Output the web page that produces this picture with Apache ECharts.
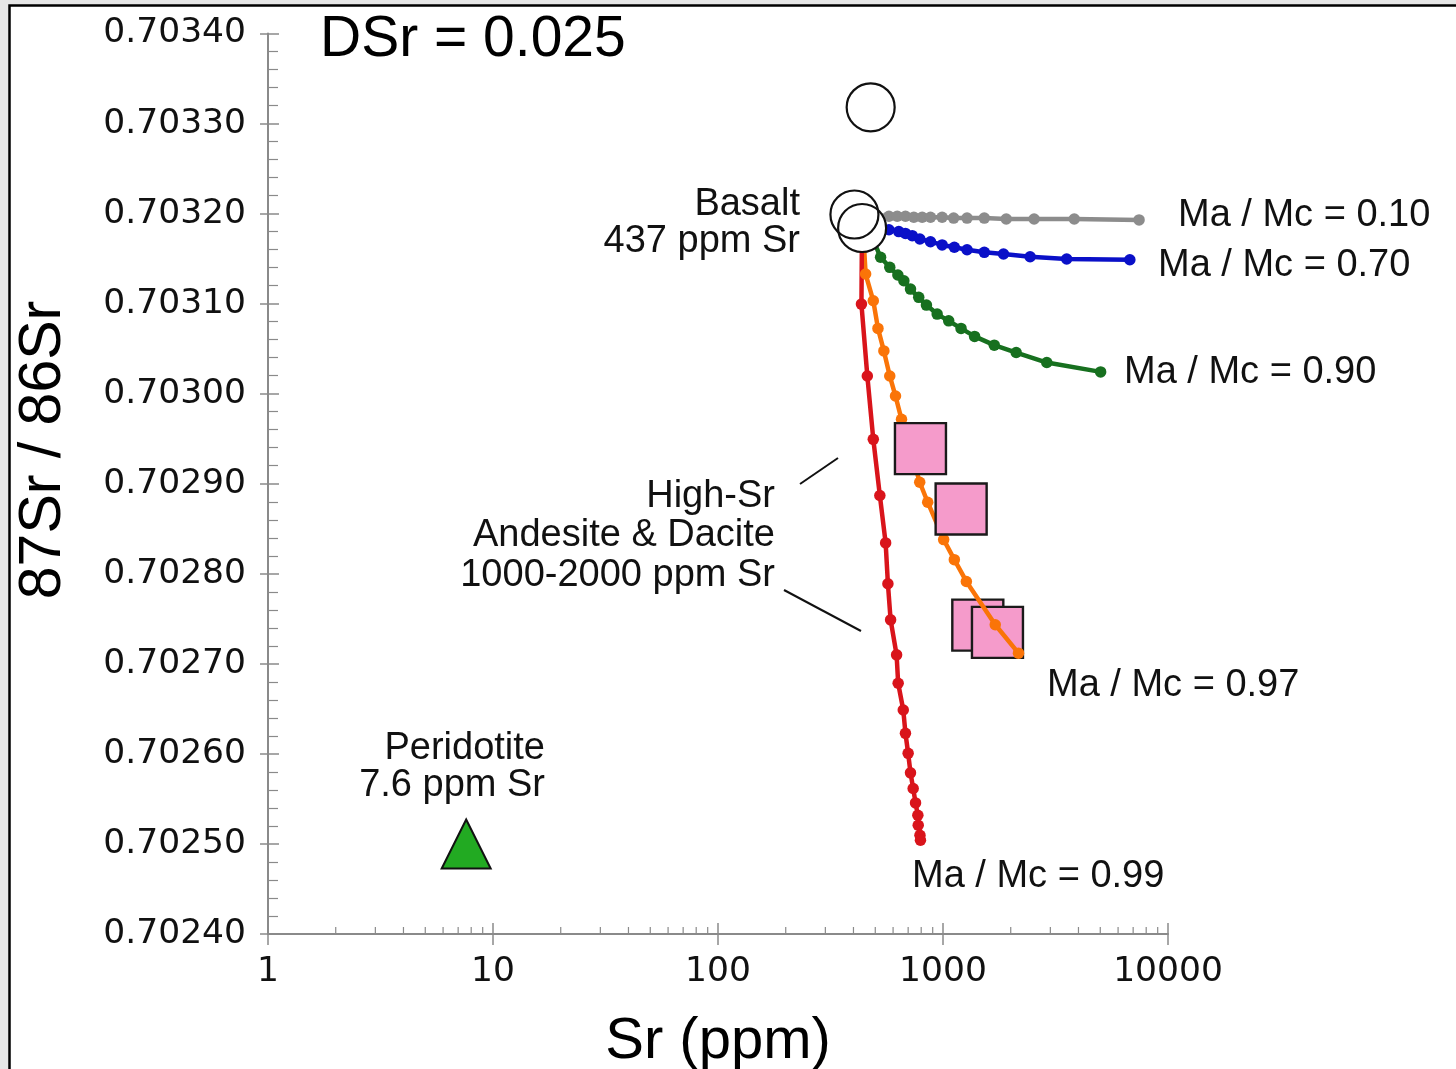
<!DOCTYPE html>
<html>
<head>
<meta charset="utf-8">
<title>DSr = 0.025 AFC curves</title>
<script src="https://cdn.jsdelivr.net/npm/echarts@6/dist/echarts.min.js"></script>
<style>
  html, body { margin: 0; padding: 0; background: #e6e6e6; overflow: hidden; }
  #chart { width: 1456px; height: 1069px; }
</style>
</head>
<body>
<div id="chart"></div>
<script>
// ---- axis ranges / ticks ----
const xTickValues = [1, 10, 100, 1000, 10000];
const yMin = 0.7024, yMax = 0.7034, yStep = 0.0001;

// ---- basalt samples (open circles) ----
const basaltSr    = [404, 437, 477];
const basaltRatio = [0.703199, 0.703184, 0.703318];

// ---- peridotite (triangle) ----
const peridotiteSr    = [7.6];
const peridotiteRatio = [0.70250];

// ---- high-Sr andesite & dacite (pink squares) ----
const highSrUpperSr    = [794, 1204];
const highSrUpperRatio = [0.702939, 0.702872];
const highSrLowerSr    = [1428, 1746];
const highSrLowerRatio = [0.702743, 0.702735];

// ---- AFC model curves, each starting from the parent basalt ----
const startSr = 437, startRatio = 0.70320;

const mamc010Sr    = [575, 626, 681, 742, 808, 880, 991, 1115, 1279, 1526, 1910, 2541, 3832, 7438];
const mamc010Ratio = [0.703197, 0.703197, 0.703197, 0.703196, 0.703196, 0.703196, 0.703196, 0.703195,
                      0.703195, 0.703195, 0.703194, 0.703194, 0.703194, 0.703193];

const mamc070Sr    = [575, 636, 681, 730, 789, 880, 991, 1123, 1279, 1526, 1857, 2439, 3546, 6767];
const mamc070Ratio = [0.703182, 0.703180, 0.703178, 0.7031755, 0.7031718, 0.7031688, 0.7031652, 0.7031626,
                      0.7031599, 0.703157, 0.7031552, 0.7031521, 0.7031496, 0.7031488];

const mamc090Sr    = [528, 580, 630, 670, 717, 780, 844, 942, 1060, 1203, 1382, 1690, 2115, 2893, 5018];
const mamc090Ratio = [0.7031515, 0.7031403, 0.7031318, 0.7031254, 0.7031162, 0.703107, 0.7030984, 0.7030884,
                      0.7030809, 0.7030725, 0.7030636, 0.7030539, 0.7030457, 0.7030346, 0.7030242];

const mamc097Sr    = [453, 490, 514, 546, 580, 615, 654, 788, 855, 1007, 1123, 1270, 1707, 2165];
const mamc097Ratio = [0.7031329, 0.7031032, 0.7030725, 0.7030475, 0.7030197, 0.7029974, 0.7029715, 0.7029017,
                      0.7028795, 0.702838, 0.7028157, 0.7027915, 0.7027434, 0.7027119];

const mamc099Sr    = [434, 461, 490, 524, 556, 569, 585, 622, 632, 666, 681, 700, 717, 737, 755, 773, 776, 790, 794];
const mamc099Ratio = [0.7030995, 0.7030197, 0.7029493, 0.7028869, 0.7028343, 0.702789, 0.7027489, 0.70271,
                      0.7026785, 0.7026487, 0.7026228, 0.7026006, 0.702579, 0.7025616, 0.7025456, 0.7025319,
                      0.7025208, 0.7025096, 0.7025041];

// ---- helpers ----
const zip = (xs, ys) => xs.map((x, i) => [x, ys[i]]);
const curve = (xs, ys) => [[startSr, startRatio]].concat(zip(xs, ys));

// minor log ticks (2..9 in every decade)
const minorLogTicks = [];
for (let d = 1; d < 10000; d *= 10) {
  for (let m = 2; m <= 9; m++) minorLogTicks.push([m * d, yMin]);
}

const SANS = '"Liberation Sans", Arial, Helvetica, sans-serif';
const TICKFONT = '"DejaVu Sans", Verdana, sans-serif';
const AXIS_GRAY = '#8a8a8a';
const NOTE_FONT = '38px ' + SANS;

function curveSeries(name, xs, ys, color) {
  return {
    name: name,
    type: 'line',
    data: curve(xs, ys),
    symbol: 'circle',
    symbolSize: 11.5,
    showSymbol: true,
    showAllSymbol: true,
    z: 2,
    lineStyle: { color: color, width: 4.5 },
    itemStyle: { color: color, opacity: 1 },
    emphasis: { disabled: true },
    silent: true
  };
}

function note(x, y, text, align, lineHeight) {
  return {
    type: 'text', z: 50, x: x, y: y, silent: true,
    style: { text: text, font: NOTE_FONT, fill: '#111', align: align, verticalAlign: 'middle', lineHeight: lineHeight || 39 }
  };
}

const chart = echarts.init(document.getElementById('chart'), null, { renderer: 'canvas' });

const commonX = { type: 'log', logBase: 10, min: 1, max: 10000 };
const commonY = { type: 'value', min: yMin, max: yMax, interval: yStep };

chart.setOption({
  animation: false,
  backgroundColor: '#e6e6e6',
  title: {
    text: 'DSr = 0.025',
    left: 320,
    top: 12,
    padding: 0,
    textStyle: { fontFamily: SANS, fontSize: 57, fontWeight: 'normal', color: '#000' }
  },
  grid: { left: 268, right: 288, top: 33.5, bottom: 135, containLabel: false, outerBoundsMode: 'none' },
  xAxis: [
    Object.assign({}, commonX, {
      position: 'bottom',
      name: 'Sr (ppm)',
      nameLocation: 'middle',
      nameGap: 79,
      nameTextStyle: { fontFamily: SANS, fontSize: 58, color: '#000' },
      axisLine: { show: true, lineStyle: { color: AXIS_GRAY, width: 2 } },
      axisTick: { show: true, inside: true, length: 11, lineStyle: { color: AXIS_GRAY, width: 1.5 } },
      axisLabel: {
        margin: 21,
        fontFamily: TICKFONT, fontSize: 34.5, color: '#111',
        formatter: v => String(Math.round(v))
      },
      splitLine: { show: false }
    }),
    Object.assign({}, commonX, {
      position: 'bottom',
      axisLine: { show: false },
      axisTick: { show: true, inside: false, length: 11, lineStyle: { color: AXIS_GRAY, width: 1.5 } },
      axisLabel: { show: false },
      splitLine: { show: false }
    })
  ],
  yAxis: [
    Object.assign({}, commonY, {
      position: 'left',
      axisLine: { show: true, lineStyle: { color: AXIS_GRAY, width: 2 } },
      axisTick: { show: true, inside: true, length: 11, lineStyle: { color: AXIS_GRAY, width: 1.5 } },
      minorTick: { show: true, splitNumber: 5, length: 10, lineStyle: { color: AXIS_GRAY, width: 1.2 } },
      axisLabel: {
        margin: 22,
        padding: [6, 0, 0, 0],
        fontFamily: TICKFONT, fontSize: 34.5, color: '#111',
        formatter: v => v.toFixed(5)
      },
      splitLine: { show: false }
    }),
    Object.assign({}, commonY, {
      position: 'left',
      axisLine: { show: false },
      axisTick: { show: true, inside: false, length: 8, lineStyle: { color: AXIS_GRAY, width: 1.5 } },
      axisLabel: { show: false },
      splitLine: { show: false }
    })
  ],
  graphic: [
    // white plotting panel with a black frame on the left and top
    {
      type: 'rect', z: -10, silent: true,
      shape: { x: 9.5, y: 5.5, width: 1470, height: 1090 },
      style: { fill: '#ffffff', stroke: '#000', lineWidth: 2.5 }
    },
    // y axis title
    {
      type: 'text', z: 50, x: 44, y: 450, rotation: Math.PI / 2, silent: true,
      style: { text: '87Sr / 86Sr', font: '59px ' + SANS, fill: '#000', align: 'center', verticalAlign: 'middle' }
    },
    // annotations
    note(800, 223, 'Basalt\n437 ppm Sr', 'right', 37),
    note(545, 767, 'Peridotite\n7.6 ppm Sr', 'right', 37),
    note(775, 536, 'High-Sr\nAndesite & Dacite\n1000-2000 ppm Sr', 'right', 39.5),
    note(1178, 216, 'Ma / Mc = 0.10', 'left'),
    note(1158, 266, 'Ma / Mc = 0.70', 'left'),
    note(1124, 373, 'Ma / Mc = 0.90', 'left'),
    note(1047, 686, 'Ma / Mc = 0.97', 'left'),
    note(912, 877, 'Ma / Mc = 0.99', 'left'),
    // leader lines for the High-Sr label
    { type: 'line', z: 50, silent: true, shape: { x1: 800, y1: 484, x2: 838, y2: 458 }, style: { stroke: '#111', lineWidth: 2 } },
    { type: 'line', z: 50, silent: true, shape: { x1: 784, y1: 590, x2: 861, y2: 631 }, style: { stroke: '#111', lineWidth: 2 } }
  ],
  series: [
    // minor log ticks on the Sr axis
    {
      type: 'custom',
      silent: true,
      z: 1,
      clip: false,
      data: minorLogTicks,
      renderItem: function (params, api) {
        const p = api.coord([api.value(0), api.value(1)]);
        return {
          type: 'line',
          shape: { x1: p[0], y1: p[1], x2: p[0], y2: p[1] - 7 },
          style: { stroke: AXIS_GRAY, lineWidth: 1.2 }
        };
      }
    },
    // samples drawn underneath the curves
    {
      name: 'High-Sr Andesite & Dacite', type: 'scatter', z: 1,
      data: zip(highSrLowerSr, highSrLowerRatio),
      symbol: 'rect', symbolSize: 51,
      itemStyle: { color: '#f59bcb', borderColor: '#1a1a1a', borderWidth: 2.4, opacity: 1 },
      silent: true
    },
    curveSeries('Ma / Mc = 0.10', mamc010Sr, mamc010Ratio, '#8c8c8c'),
    curveSeries('Ma / Mc = 0.70', mamc070Sr, mamc070Ratio, '#0a10c8'),
    curveSeries('Ma / Mc = 0.90', mamc090Sr, mamc090Ratio, '#17701f'),
    curveSeries('Ma / Mc = 0.97', mamc097Sr, mamc097Ratio, '#fa7408'),
    curveSeries('Ma / Mc = 0.99', mamc099Sr, mamc099Ratio, '#d9141b'),
    {
      name: 'High-Sr Andesite & Dacite', type: 'scatter', z: 5,
      data: zip(highSrUpperSr, highSrUpperRatio),
      symbol: 'rect', symbolSize: 51,
      itemStyle: { color: '#f59bcb', borderColor: '#1a1a1a', borderWidth: 2.4, opacity: 1 },
      silent: true
    },
    // basalt circles: white fill first, outlines on top
    {
      name: 'Basalt', type: 'scatter', z: 6,
      data: zip(basaltSr, basaltRatio),
      symbol: 'circle', symbolSize: 48,
      itemStyle: { color: '#ffffff', borderWidth: 0, opacity: 1 },
      silent: true
    },
    {
      name: 'Basalt outline', type: 'scatter', z: 7,
      data: zip(basaltSr, basaltRatio),
      symbol: 'circle', symbolSize: 48,
      itemStyle: { color: 'rgba(0,0,0,0)', borderColor: '#111', borderWidth: 2.2, opacity: 1 },
      silent: true
    },
    {
      name: 'Peridotite', type: 'scatter', z: 6,
      data: zip(peridotiteSr, peridotiteRatio),
      symbol: 'triangle', symbolSize: [49, 49],
      itemStyle: { color: '#22aa22', borderColor: '#111', borderWidth: 2, opacity: 1 },
      silent: true
    }
  ]
});
</script>
</body>
</html>
